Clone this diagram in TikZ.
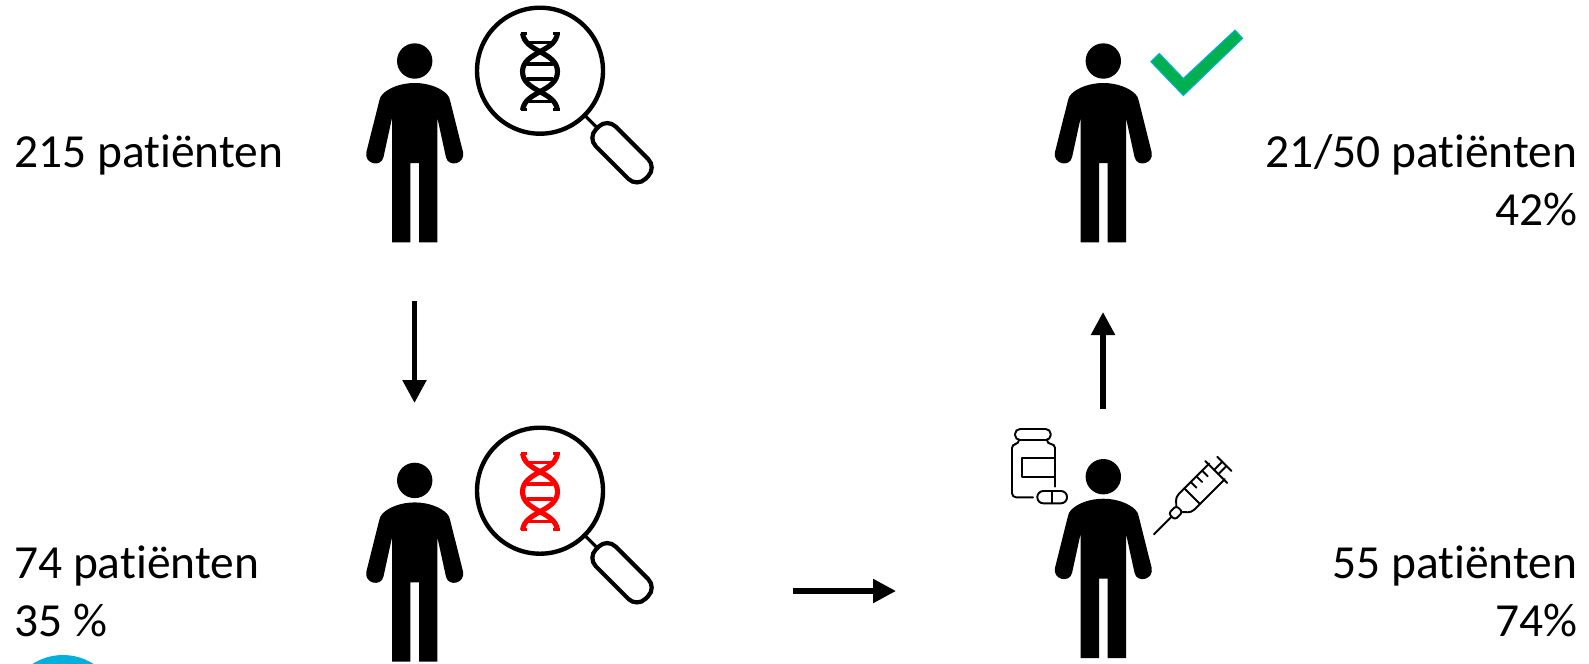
\documentclass[tikz,border=0pt]{standalone}
\usepackage{fontspec}
\setmainfont{Carlito}[Ligatures=NoCommon]
\usetikzlibrary{arrows.meta}

\definecolor{checkgreen}{HTML}{00B050}
\definecolor{checkedge}{HTML}{00B0F0}
\definecolor{dotblue}{HTML}{00B0DC}

\tikzset{
  lbl/.style={inner sep=0pt,font=\fontsize{13.5}{16}\selectfont},
  flow/.style={line width=1.5pt,-{Triangle[length=0.23cm,width=0.23cm]}},
  thinline/.style={line width=0.55pt,line cap=round,line join=round},
  pics/person/.style={code={
    \fill (0,0) circle (17.7);
    \fill (0,22) .. controls (14,22) and (26,27) .. (32,33) .. controls (34,35) and (35,37) .. (35.5,40)
      -- (48.3,91) .. controls (51,103) and (33.5,107) .. (31.2,96)
      -- (22.7,57) -- (22.7,181.3) -- (4.3,181.3) -- (4.3,102) -- (-4.3,102) -- (-4.3,181.3) -- (-22.7,181.3) -- (-22.7,57)
      -- (-31.2,96) .. controls (-33.5,107) and (-51,103) .. (-48.3,91)
      -- (-35.5,40) .. controls (-35,37) and (-34,35) .. (-32,33) .. controls (-26,27) and (-14,22) .. (0,22) -- cycle;
  }},
  pics/lens/.style={code={
    % strands and rungs first, glass and handle after
    \begin{scope}[#1,line width=1.45pt,yshift=-0.01cm]
      \draw (-17.5,-38.5) .. controls (-16,-29) and (-9,-25) .. (0,-20) .. controls (9,-15) and (17.5,-10) .. (17.5,0) .. controls (17.5,10) and (9,15) .. (0,20) .. controls (-9,25) and (-16,29) .. (-17.5,38.5);
      \draw (17.5,-38.5) .. controls (16,-29) and (9,-25) .. (0,-20) .. controls (-9,-15) and (-17.5,-10) .. (-17.5,0) .. controls (-17.5,10) and (-9,15) .. (0,20) .. controls (9,25) and (16,29) .. (17.5,38.5);
      \draw[line width=0.9pt] (-11,-29.5) -- (11,-29.5);
      \draw[line width=1.1pt] (-13,-7.5) -- (13,-7.5);
      \draw[line width=1.1pt] (-13,7.5) -- (13,7.5);
      \draw[line width=0.9pt] (-11,29.5) -- (11,29.5);
      \draw[line width=0.8pt] (-19.5,-38) -- (-13,-38);
      \draw[line width=0.8pt] (19.5,-38) -- (13,-38);
      \draw[line width=0.8pt] (-19.5,38) -- (-13,38);
      \draw[line width=0.8pt] (19.5,38) -- (13,38);
    \end{scope}
    \draw[line width=1.25pt] (0,0) circle (63);
    \begin{scope}[rotate=-45]
      \draw[line width=0.9pt] (63,0) -- (81,0);
      \draw[line width=1.2pt,rounded corners=0.12cm] (81,-14) rectangle (151,14);
    \end{scope}
  }},
}

\begin{document}
\begin{tikzpicture}[x=0.01cm,y=-0.01cm]
\useasboundingbox (0,0) rectangle (1589,663);

\begin{scope}
\clip (0,0) rectangle (1589,663);
\fill[dotblue] (63,711.6) circle (56.6);
\end{scope}

\pic at (414.7,61) {person};
\pic at (414.7,480.4) {person};
\pic at (1103.3,61) {person};
\pic at (1103.3,476.7) {person};

\pic at (540,70.7) {lens=black};
\pic at (540,490.7) {lens=red};

\filldraw[fill=checkgreen,draw=checkedge,line width=0.25pt] (1150.7,61.7) -- (1159.3,53.3) -- (1183.3,78.3) -- (1235,30) -- (1242.7,38.3) -- (1183.3,95.7) -- cycle;

% bottle and pill
\begin{scope}[thinline]
\draw[rounded corners=0.05cm] (1015,429) rectangle (1050.7,440);
\draw[rounded corners=0.04cm] (1019,440) -- (1019,444) -- (1012,444) -- (1012,497.3) -- (1033,497.3);
\draw[rounded corners=0.04cm] (1047,440) -- (1047,444) -- (1055,444) -- (1055,486.7);
\draw (1055,458.3) -- (1022.3,458.3) -- (1022.3,477.3) -- (1055,477.3);
\draw[rounded corners=0.06cm] (1037.3,491) rectangle (1067,503.3);
\draw (1052.3,491) -- (1052.3,503.3);
\end{scope}

% syringe
\begin{scope}[thinline,shift={(1154,534.3)},rotate=45]
\draw (0,0) -- (25,0);
\draw[rounded corners=0.03cm] (25,-4.5) rectangle (36,4.5);
\draw (89,-11) -- (46,-11) .. controls (40,-11) and (38,-6) .. (36,-4.5);
\draw (89,11) -- (46,11) .. controls (40,11) and (38,6) .. (36,4.5);
\draw (54,-11) -- (54,11);
\draw (63,-11) -- (63,-3);
\draw (71,-11) -- (71,-3);
\draw (79,-11) -- (79,-3);
\draw (88,-15.5) -- (88,15.5);
\draw (88,-3) -- (99.5,-3);
\draw (88,3) -- (99.5,3);
\draw (99.5,-10) -- (99.5,10);
\end{scope}

\coordinate (startA) at (414.5,301);
\coordinate (endA) at (414.5,403);
\coordinate (startB) at (792.5,591);
\coordinate (endB) at (896,591);
\coordinate (startC) at (1103,409);
\coordinate (endC) at (1103,312);
\draw[flow] (startA) -- (endA);
\draw[flow] (startB) -- (endB);
\draw[flow] (startC) -- (endC);

\node[lbl,anchor=base west] (screened) at (13.5,167) {215 patiënten};
\node[lbl,anchor=base west] (mutated) at (13.5,578) {74 patiënten};
\node[lbl,anchor=base west] (mutatedpct) at (13.5,636) {35 \%};
\node[lbl,anchor=base east] (treated) at (1578,578) {55 patiënten};
\node[lbl,anchor=base east] (treatedpct) at (1578,636) {74\%};
\node[lbl,anchor=base east] (response) at (1578,167) {21/50 patiënten};
\node[lbl,anchor=base east] (responsepct) at (1578,225) {42\%};

\end{tikzpicture}
\end{document}
